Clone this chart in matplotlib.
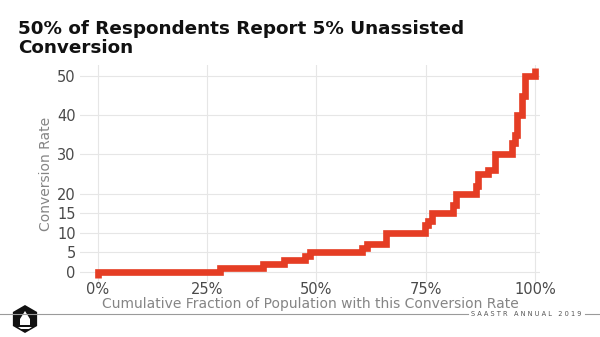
import matplotlib.pyplot as plt
from matplotlib.patches import RegularPolygon, Polygon
from matplotlib.lines import Line2D

# Step points: cumulative fraction of respondents vs. unassisted conversion rate
frac = [0.000, 0.000, 0.280, 0.378, 0.425, 0.474, 0.485, 0.605, 0.615, 0.660,
        0.748, 0.754, 0.763, 0.812, 0.820, 0.865, 0.870, 0.893, 0.908, 0.947,
        0.954, 0.959, 0.970, 0.977, 1.000]
rate = [-1.5, 0, 1, 2, 3, 4, 5, 6, 7, 10,
        12, 13, 15, 17, 20, 22, 25, 26, 30, 33,
        35, 40, 45, 50, 52]

y_ticks = [0, 5, 10, 15, 20, 30, 40, 50]
x_ticks = [0, 0.25, 0.5, 0.75, 1.0]
x_labels = ["0%", "25%", "50%", "75%", "100%"]

fig = plt.figure(figsize=(6, 3.37), dpi=100)
ax = fig.add_axes([0.133, 0.163, 0.767, 0.644])

ax.step(frac, rate, where="post", color="#e53d24", linewidth=4.8,
        solid_joinstyle="miter", solid_capstyle="butt", zorder=3)

ax.set_xlim(-0.041, 1.011)
ax.set_ylim(-2.6, 52.8)
ax.set_xticks(x_ticks)
ax.set_xticklabels(x_labels)
ax.set_yticks(y_ticks)
ax.grid(color="#e6e6e6", linewidth=0.8)
ax.set_axisbelow(True)
for s in ax.spines.values():
    s.set_visible(False)
ax.tick_params(length=0, labelsize=10.5, labelcolor="#4a4a4a", pad=3)
ax.tick_params(axis="x", pad=0)
ax.set_xlabel("Cumulative Fraction of Population with this Conversion Rate",
              fontsize=10, color="#858585")
ax.xaxis.set_label_coords(0.5, -0.068)
ax.set_ylabel("Conversion Rate", fontsize=10, color="#858585")
ax.yaxis.set_label_coords(-0.058, 0.5)

fig.text(0.03, 0.94, "50% of Respondents Report 5% Unassisted\nConversion",
         fontsize=13.2, fontweight="bold", color="#111111", va="top",
         linespacing=1.05)

# footer rule with event tag
fig.add_artist(Line2D([0, 0.78], [0.067, 0.067], color="#9a9a9a", linewidth=0.8))
fig.add_artist(Line2D([0.975, 1.0], [0.067, 0.067], color="#9a9a9a", linewidth=0.8))
fig.text(0.877, 0.067, "S A A S T R   A N N U A L   2 0 1 9", fontsize=4.8,
         color="#555555", ha="center", va="center")

# hexagon badge
fig.add_artist(RegularPolygon((25, 337 - 319), numVertices=6, radius=14,
                              orientation=0, facecolor="#111111",
                              transform=None))
fig.add_artist(Polygon([(20, 12), (30, 12), (30, 18), (25, 26), (20, 18)],
                       closed=True, facecolor="white", transform=None))
fig.add_artist(Polygon([(18, 10), (32, 10), (29, 8), (21, 8)],
                       closed=True, facecolor="white", transform=None))

fig.savefig("out.png", dpi=100)
